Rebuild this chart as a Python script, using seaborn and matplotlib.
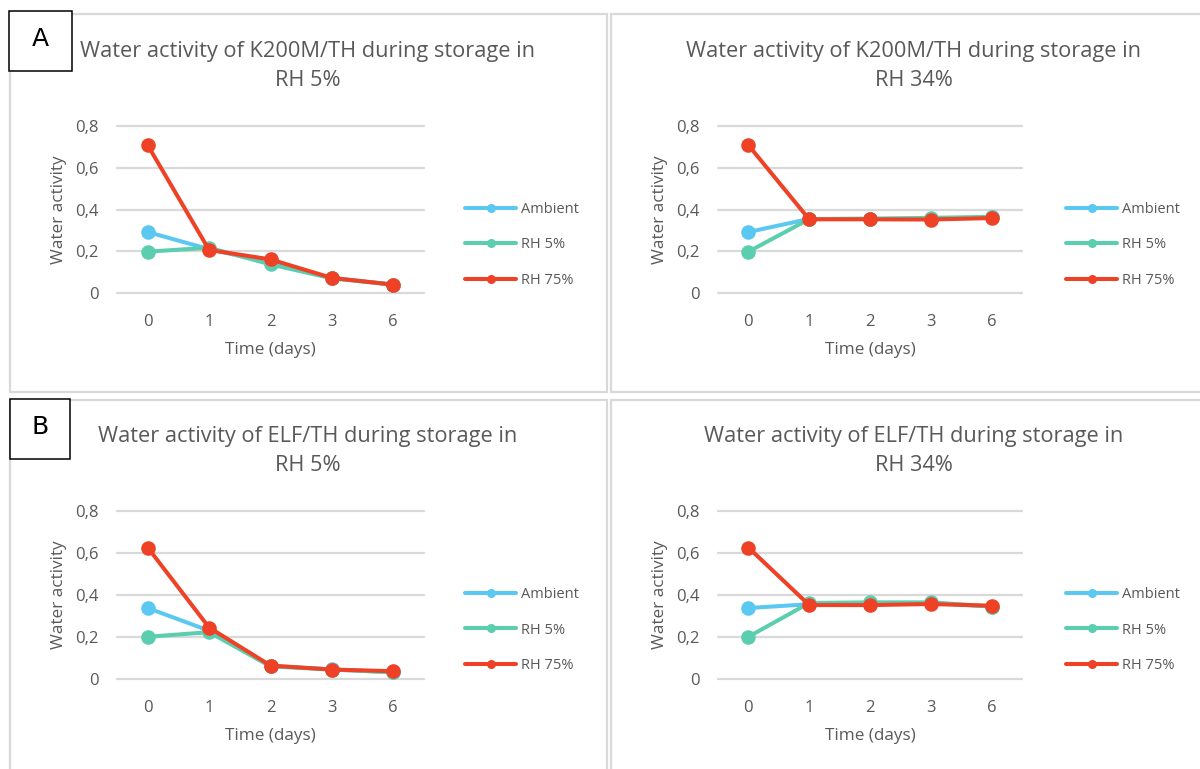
import matplotlib
matplotlib.use("Agg")
import matplotlib.pyplot as plt
from matplotlib.patches import Rectangle
from matplotlib.lines import Line2D
import seaborn as sns
import pandas as pd
import numpy as np

sns.set_theme(style="white")
plt.rcParams['font.family'] = ['Open Sans', 'DejaVu Sans']

days = ["0", "1", "2", "3", "6"]
series_names = ["Ambient", "RH 5%", "RH 75%"]
colors = ["#5BC8F2", "#5CCEB0", "#EE4126"]

titles = [
    "Water activity of K200M/TH during storage in\nRH 5%",
    "Water activity of K200M/TH during storage in\nRH 34%",
    "Water activity of ELF/TH during storage in\nRH 5%",
    "Water activity of ELF/TH during storage in\nRH 34%",
]

# K200M/TH, RH 5%
k_rh5_ambient = [0.292, 0.210, 0.145, 0.073, 0.040]
k_rh5_rh5 = [0.198, 0.217, 0.137, 0.070, 0.040]
k_rh5_rh75 = [0.708, 0.206, 0.161, 0.072, 0.040]
# K200M/TH, RH 34%
k_rh34_ambient = [0.292, 0.355, 0.355, 0.356, 0.362]
k_rh34_rh5 = [0.198, 0.354, 0.356, 0.360, 0.365]
k_rh34_rh75 = [0.708, 0.353, 0.353, 0.352, 0.359]
# ELF/TH, RH 5%
e_rh5_ambient = [0.338, 0.230, 0.062, 0.046, 0.032]
e_rh5_rh5 = [0.201, 0.223, 0.060, 0.045, 0.032]
e_rh5_rh75 = [0.626, 0.245, 0.064, 0.045, 0.037]
# ELF/TH, RH 34%
e_rh34_ambient = [0.338, 0.356, 0.360, 0.362, 0.345]
e_rh34_rh5 = [0.201, 0.362, 0.365, 0.365, 0.345]
e_rh34_rh75 = [0.626, 0.352, 0.352, 0.357, 0.349]

panel_data = [
    [k_rh5_ambient, k_rh5_rh5, k_rh5_rh75],
    [k_rh34_ambient, k_rh34_rh5, k_rh34_rh75],
    [e_rh5_ambient, e_rh5_rh5, e_rh5_rh75],
    [e_rh34_ambient, e_rh34_rh5, e_rh34_rh75],
]

yticks = [0, 0.2, 0.4, 0.6, 0.8]
ytick_labels = ["0", "0,2", "0,4", "0,6", "0,8"]

W, H = 1200, 769
fig = plt.figure(figsize=(12, 7.69), dpi=100)
fig.patch.set_facecolor("white")

def fx(px):
    return px / W

def fy(py):
    return 1 - py / H

txt_color = "#595959"
grid_color = "#D9D9D9"

# panel frames (pixel boxes: x0, y0, x1, y1)
frames = [(10, 14, 607, 392), (611, 14, 1215, 392), (10, 400, 607, 780), (611, 400, 1215, 780)]
for (x0, y0, x1, y1) in frames:
    fig.add_artist(Rectangle((fx(x0), fy(y1)), fx(x1 - x0), (y1 - y0) / H,
                             transform=fig.transFigure, facecolor="white",
                             edgecolor=grid_color, lw=1.6, zorder=0))

# axes positions (pixels): x0, x1, ytop, ybottom
axes_px = [(117, 424, 126, 293), (718, 1022, 126, 293), (117, 424, 511, 679), (718, 1022, 511, 679)]
title_px = [(308, 65.5), (914, 65.5), (308, 451), (914, 451)]
legend_px = [(465, 245), (1066, 245), (465, 630), (1066, 630)]

for i, (x0, x1, yt, yb) in enumerate(axes_px):
    ax = fig.add_axes([fx(x0), fy(yb), fx(x1 - x0), (yb - yt) / H])
    ax.set_facecolor("none")
    xs = np.arange(len(days))
    for name, vals, c in zip(series_names, panel_data[i], colors):
        df = pd.DataFrame({"x": xs, "y": vals})
        sns.lineplot(data=df, x="x", y="y", ax=ax, color=c, linewidth=2.9,
                     marker="o", markersize=10.5, markeredgewidth=0,
                     label=name, legend=False)
    ax.set_xlim(-0.5, len(days) - 0.5)
    ax.set_ylim(0, 0.8)
    ax.set_xticks(xs)
    ax.set_xticklabels(days)
    ax.set_yticks(yticks)
    ax.set_yticklabels(ytick_labels)
    ax.tick_params(axis="both", length=0, labelsize=12, labelcolor=txt_color)
    ax.tick_params(axis="x", pad=15)
    ax.tick_params(axis="y", pad=13)
    for s in ax.spines.values():
        s.set_visible(False)
    ax.yaxis.grid(True, color=grid_color, lw=1.6)
    ax.xaxis.grid(False)
    ax.set_axisbelow(True)
    for gl in ax.get_ygridlines():
        gl.set_clip_on(False)
    ax.set_xlabel("Time (days)", fontsize=12.3, color=txt_color)
    ax.set_ylabel("Water activity", fontsize=12.3, color=txt_color)
    ax.xaxis.set_label_coords(0.5, -49.0 / (yb - yt))
    ax.yaxis.set_label_coords(-(117 - 67) / (x1 - x0), 0.5)
    # title
    tx, ty = title_px[i]
    fig.text(fx(tx), fy(ty), titles[i], ha="center", va="center",
             fontsize=15.7, color=txt_color, linespacing=1.5)
    # legend
    handles = [Line2D([0], [0], color=c, lw=2.9, marker="o", markersize=6.5,
                      markeredgewidth=0) for c in colors]
    lx, ly = legend_px[i]
    leg = fig.legend(handles, series_names, loc="center left",
                     bbox_to_anchor=(fx(lx), fy(ly)), frameon=False,
                     fontsize=10.5, handlelength=3.5, handletextpad=0.35,
                     labelspacing=1.38, borderpad=0, borderaxespad=0)
    for t in leg.get_texts():
        t.set_color(txt_color)

# A / B labels
for lab, (x0, y0, x1, y1) in zip(["A", "B"], [(9, 11, 72, 71), (10, 399, 70, 459)]):
    fig.add_artist(Rectangle((fx(x0), fy(y1)), fx(x1 - x0), (y1 - y0) / H,
                             transform=fig.transFigure, facecolor="white",
                             edgecolor="black", lw=1.1, zorder=5))
    fig.text(fx((x0 + x1) / 2), fy((y0 + y1) / 2 - 2), lab, ha="center", va="center",
             fontsize=18, color="black", zorder=6, family=["DejaVu Sans"])

fig.savefig("out.png", dpi=100, facecolor="white")
